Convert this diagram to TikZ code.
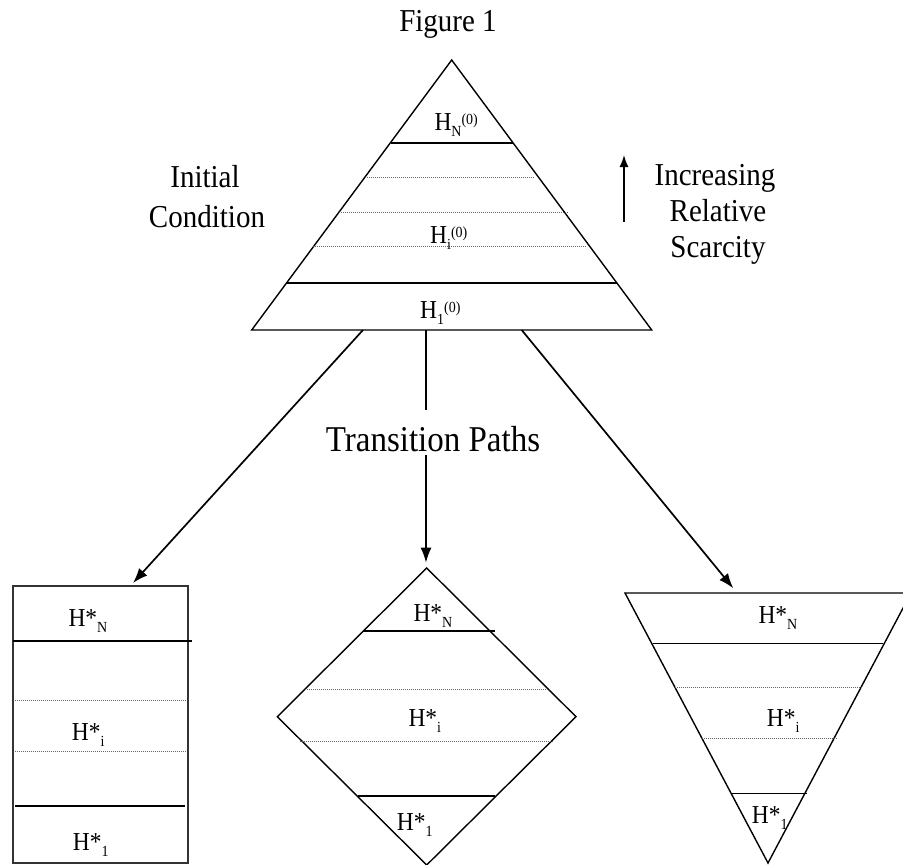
\documentclass[tikz,border=0pt]{standalone}
\usepackage{fontspec}
\usepackage{graphicx}
\setmainfont{Liberation Serif}
\usetikzlibrary{arrows.meta,calc}
\tikzstyle{outline}=[line width=1.4pt]
\tikzstyle{bar}=[line width=1.6pt]
\tikzstyle{dotline}=[line width=1pt,black!60,dash pattern=on 1pt off 1pt]
\tikzstyle{transarrow}=[line width=1.7pt,-{Latex[length=15pt,width=11pt]}]
\tikzstyle{lab}=[anchor=base west,inner sep=0pt,font=\fontsize{23.5}{23.5}\selectfont]
\tikzstyle{big}=[anchor=base,inner sep=0pt,font=\fontsize{29}{34}\selectfont]
\newcommand{\tall}[1]{\scalebox{1}[1.1]{#1}} % the figure is stretched a bit upwards
\newcommand{\hzero}[1]{\tall{H\raisebox{-5.5pt}{\fontsize{14}{14}\selectfont #1}\raisebox{5pt}{\fontsize{14}{14}\selectfont (0)}}}
\newcommand{\hstar}[1]{\tall{H*\raisebox{-5.5pt}{\fontsize{14}{14}\selectfont #1}}}
\newcommand{\level}[4][bar]{ % Syntax: [style] {y} {left x} {right x}
    \draw[#1] (#3,#2) -- (#4,#2);
}

\begin{document}
\begin{tikzpicture}[x=1pt,y=-1pt]
\useasboundingbox (0,0) rectangle (903,865);
\node[big] (title) at (448,31.7) {\tall{Figure 1}};
% initial condition
\draw[outline] (451.7,60) -- (251.7,330) -- (651.7,330) -- cycle;
\level{142.7}{390.5}{513}
\level[dotline]{177.7}{365}{535}
\level[dotline]{212.7}{339}{569}
\level[dotline]{246.7}{313}{586}
\level{282.7}{286.8}{616.6}
\node[lab] (h0N) at (434.3,130) {\hzero{N}};
\node[lab] (h0i) at (430,243.3) {\hzero{i}};
\node[lab] (h01) at (420,318.3) {\hzero{1}};
\node[big] (init1) at (205,187) {\tall{Initial}};
\node[big] (init2) at (207,227) {\tall{Condition}};
\coordinate (scB) at (624,222);
\coordinate (scT) at (624,155);
\draw[line width=1.5pt,-{Latex[length=12pt,width=9pt]}] (scB) -- (scT);
\node[big] (incr1) at (715,185) {\tall{Increasing}};
\node[big] (incr2) at (718,221) {\tall{Relative}};
\node[big] (incr3) at (718,257) {\tall{Scarcity}};
% transition paths
\coordinate (triL) at (363,330);
\coordinate (triM) at (426,330);
\coordinate (triR) at (521.7,330);
\coordinate (gapT) at (426,410);
\coordinate (gapB) at (426,455);
\coordinate (rectTop) at (133,583);
\coordinate (diaTop) at (426,562.7);
\coordinate (invTop) at (733.3,588.3);
\draw[transarrow] (triL) -- (rectTop);
\draw[line width=1.7pt] (triM) -- (gapT);
\draw[transarrow] (gapB) -- (diaTop);
\draw[transarrow] (triR) -- (invTop);
\node[big,font=\fontsize{33}{38}\selectfont] (paths) at (433,451.7) {\tall{Transition Paths}};
% rectangle
\draw[line width=1.8pt,black!80] (12.7,586) rectangle (188.3,862.7);
\level{640.7}{12.7}{192}
\level[dotline]{700}{15}{187}
\level[dotline]{751}{15}{187}
\level{806}{15}{185}
\node[lab] (rN) at (68.3,626.7) {\hstar{N}};
\node[lab] (ri) at (71.7,740) {\hstar{i}};
\node[lab] (r1) at (72.7,850) {\hstar{1}};
% diamond
\draw[outline] (426.7,568) -- (576,716.7) -- (426.7,865) -- (277.3,716.7) -- cycle;
\level{631}{363.3}{495}
\level[dotline]{689.3}{305}{550}
\level[dotline]{741}{300}{553}
\level{796}{358}{495}
\node[lab] (dN) at (413.3,621.7) {\hstar{N}};
\node[lab] (di) at (408.3,726.7) {\hstar{i}};
\node[lab] (d1) at (396.7,830) {\hstar{1}};
% inverted triangle
\draw[outline] (625,593) -- (911,593) -- (768,863) -- cycle;
\level{643.3}{653}{883}
\level[dotline]{687.3}{675}{861.7}
\level[dotline]{738.3}{701.7}{836.7}
\level{793.3}{730.7}{806.7}
\node[lab] (iN) at (758.3,623.3) {\hstar{N}};
\node[lab] (ii) at (766.7,726.7) {\hstar{i}};
\node[lab] (i1) at (751.7,823.3) {\hstar{1}};
\end{tikzpicture}
\end{document}
